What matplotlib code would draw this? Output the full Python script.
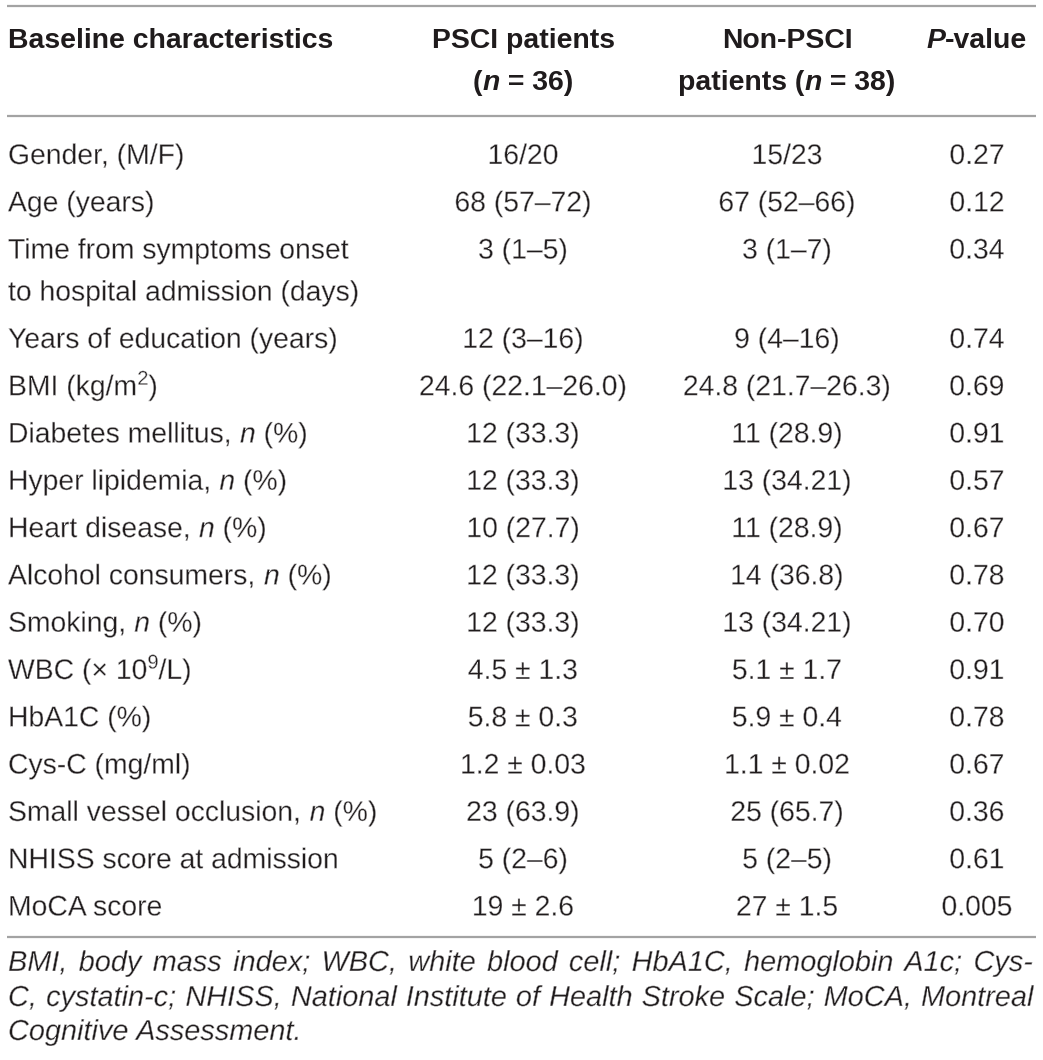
import re
import matplotlib
matplotlib.use("Agg")
import matplotlib.pyplot as plt
import matplotlib.patheffects as pe

# ---------------- data ----------------
col_headers = [["**Baseline characteristics**"],
               ["**PSCI patients**", "**(*n* = 36)**"],
               ["**Non-PSCI**", "**patients (*n* = 38)**"],
               ["***P*-value**"]]

characteristics = [
    "Gender, (M/F)",
    "Age (years)",
    "Time from symptoms onset\nto hospital admission (days)",
    "Years of education (years)",
    "BMI (kg/m^2^)",
    "Diabetes mellitus, *n* (%)",
    "Hyper lipidemia, *n* (%)",
    "Heart disease, *n* (%)",
    "Alcohol consumers, *n* (%)",
    "Smoking, *n* (%)",
    "WBC (× 10^9^/L)",
    "HbA1C (%)",
    "Cys-C (mg/ml)",
    "Small vessel occlusion, *n* (%)",
    "NHISS score at admission",
    "MoCA score",
]
psci = ["16/20", "68 (57–72)", "3 (1–5)", "12 (3–16)", "24.6 (22.1–26.0)",
        "12 (33.3)", "12 (33.3)", "10 (27.7)", "12 (33.3)", "12 (33.3)",
        "4.5 ± 1.3", "5.8 ± 0.3", "1.2 ± 0.03", "23 (63.9)", "5 (2–6)", "19 ± 2.6"]
non_psci = ["15/23", "67 (52–66)", "3 (1–7)", "9 (4–16)", "24.8 (21.7–26.3)",
            "11 (28.9)", "13 (34.21)", "11 (28.9)", "14 (36.8)", "13 (34.21)",
            "5.1 ± 1.7", "5.9 ± 0.4", "1.1 ± 0.02", "25 (65.7)", "5 (2–5)", "27 ± 1.5"]
p_values = ["0.27", "0.12", "0.34", "0.74", "0.69", "0.91", "0.57", "0.67",
            "0.78", "0.70", "0.91", "0.78", "0.67", "0.36", "0.61", "0.005"]

footnote_lines = [
    "BMI, body mass index; WBC, white blood cell; HbA1C, hemoglobin A1c; Cys-",
    "C, cystatin-c; NHISS, National Institute of Health Stroke Scale; MoCA, Montreal",
    "Cognitive Assessment.",
]

# ---------------- layout ----------------
W, H = 1043, 1060
FONT = "Liberation Sans"
FS = 20.4
TXT = "#1f1b1c"
RULE = "#a3a3a3"
LEFT, RIGHT = 7, 1036
col_x = [8, 523, 787, 977]
col_ha = ["left", "center", "center", "center"]
CAP_HALF = 10.0
# thin the regular strokes a little to mimic a light face
LIGHT = [pe.Normal(), pe.Stroke(linewidth=0.35, foreground="white")]

fig = plt.figure(figsize=(W / 100, H / 100), dpi=100)
ax = fig.add_axes([0, 0, 1, 1])
ax.set_xlim(0, W)
ax.set_ylim(H, 0)
ax.axis("off")
renderer = fig.canvas.get_renderer()


def parse(s, bold=False, italic=False):
    """markup: **bold**, *italic*, ^sup^"""
    runs = []
    tokens = re.split(r"(\*\*.+?\*\*(?!\*)|\*[^*]+\*|\^[^^]+\^)", s)
    for t in tokens:
        if not t:
            continue
        if t.startswith("**") and t.endswith("**") and len(t) > 4:
            runs += parse(t[2:-2], True, italic)
        elif t.startswith("*") and t.endswith("*") and len(t) > 2:
            runs += parse(t[1:-1], bold, True)
        elif t.startswith("^") and t.endswith("^") and len(t) > 2:
            runs.append((t[1:-1], bold, italic, True))
        else:
            runs.append((t, bold, italic, False))
    return runs


def props(bold, italic, sup, size=FS):
    return dict(family=FONT, fontsize=size * (0.7 if sup else 1.0),
                fontweight="bold" if bold else "normal",
                fontstyle="italic" if italic else "normal")


_cache = {}


def width(s, **kw):
    key = (s, tuple(sorted(kw.items())))
    if key in _cache:
        return _cache[key]
    t1 = ax.text(0, 0, "|" + s + "|", **kw)
    t2 = ax.text(0, 0, "||", **kw)
    w = t1.get_window_extent(renderer).width - t2.get_window_extent(renderer).width
    t1.remove(); t2.remove()
    _cache[key] = w
    return w


def draw_rich(x, yc, s, ha="left", bold=False, italic=False):
    runs = parse(s, bold, italic)
    ws = [width(r[0], **props(r[1], r[2], r[3])) for r in runs]
    total = sum(ws)
    if ha == "center":
        x = x - total / 2
    elif ha == "right":
        x = x - total
    base = yc + CAP_HALF
    for (txt, b, i, sup), w in zip(runs, ws):
        y = base - 10.5 if sup else base
        t = ax.text(x, y, txt, va="baseline", ha="left", color=TXT, **props(b, i, sup))
        if not b:
            t.set_path_effects(LIGHT)
        x += w


def hline(y, lw=1.6):
    ax.plot([LEFT, RIGHT], [y, y], color=RULE, lw=lw, solid_capstyle="butt")


# rules
hline(6)
hline(116)

# header
HEAD_Y = [38, 80]
for j, lines in enumerate(col_headers):
    for k, line in enumerate(lines):
        draw_rich(col_x[j], HEAD_Y[k], line, ha=col_ha[j])

# body
y = 154
PITCH = 47.3
LINE_GAP = 42
for i, name in enumerate(characteristics):
    parts = name.split("\n")
    for k, part in enumerate(parts):
        draw_rich(col_x[0], y + k * LINE_GAP, part, ha="left")
    draw_rich(col_x[1], y, psci[i], ha="center")
    draw_rich(col_x[2], y, non_psci[i], ha="center")
    draw_rich(col_x[3], y, p_values[i], ha="center")
    y += PITCH + (len(parts) - 1) * LINE_GAP

hline(937)

# footnote (justified)
FOOT_Y = [961, 996, 1030]
FOOT_FS = 20.8
for k, line in enumerate(footnote_lines):
    words = line.split(" ")
    kw = props(False, True, False, FOOT_FS)
    ws = [width(w_, **kw) for w_ in words]
    if k < len(footnote_lines) - 1:
        gap = (RIGHT - 3 - 8 - sum(ws)) / (len(words) - 1)
    else:
        gap = width(" ", **kw)
    x = 8
    for w_, wd in zip(words, ws):
        t = ax.text(x, FOOT_Y[k] + CAP_HALF, w_, va="baseline", ha="left", color=TXT, **kw)
        t.set_path_effects(LIGHT)
        x += wd + gap

fig.savefig("out.png", dpi=100, facecolor="white")
